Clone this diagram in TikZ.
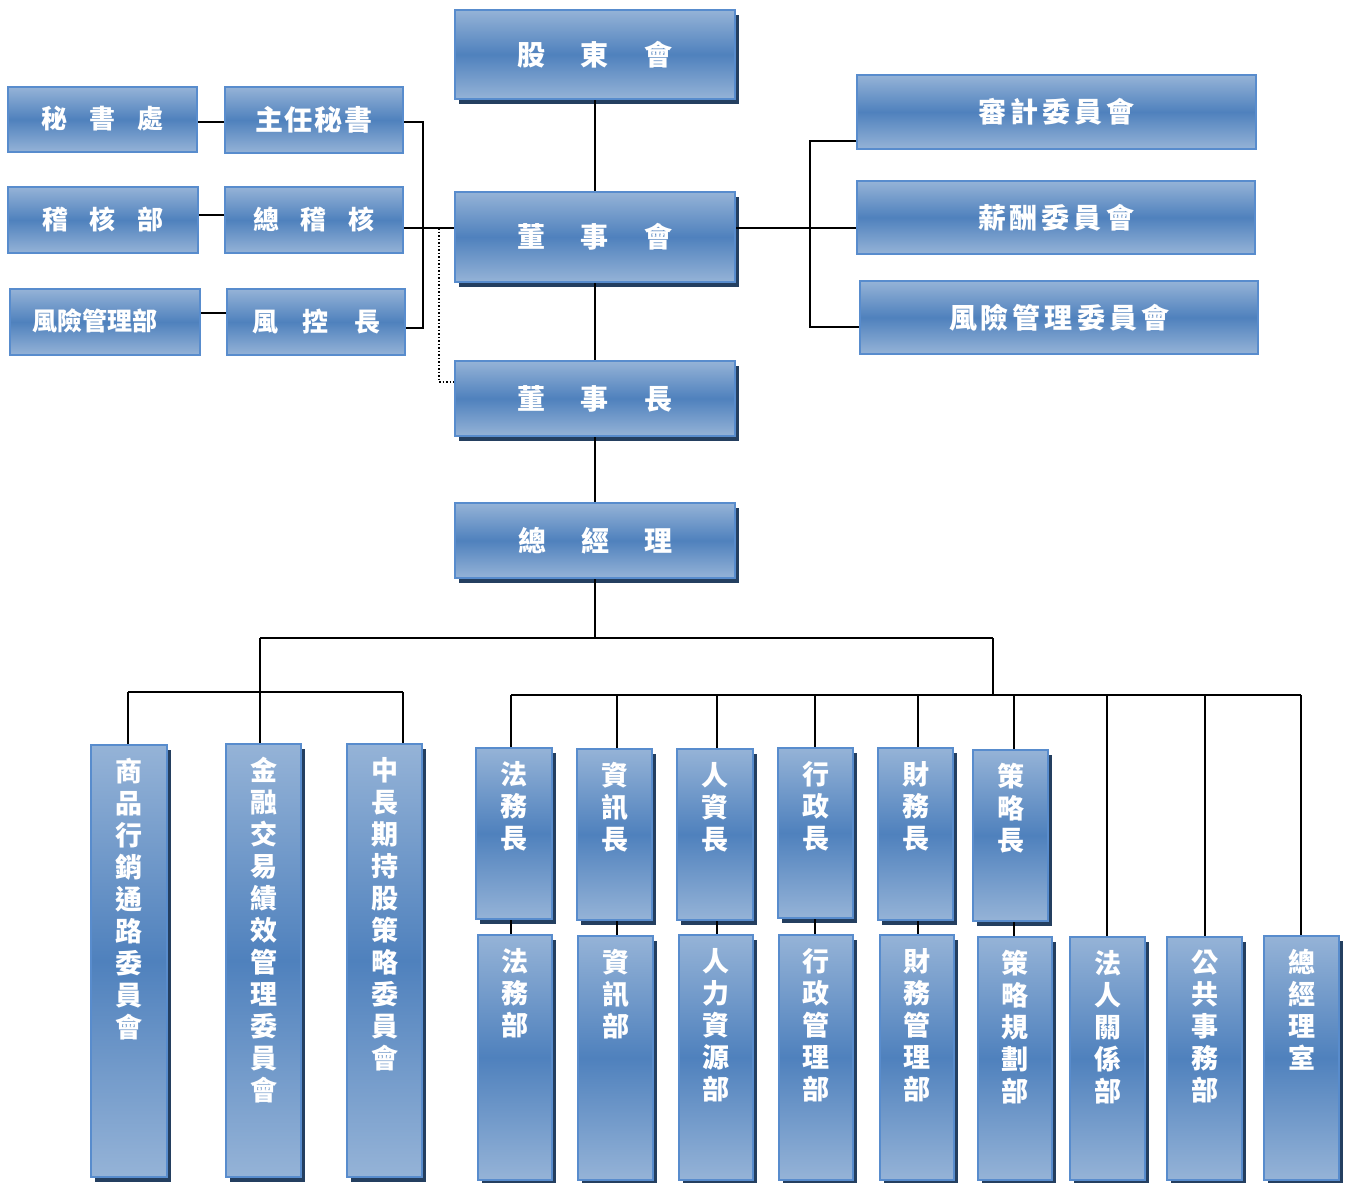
\documentclass[tikz,border=0pt]{standalone}
\usepackage{fontspec}
\newfontfamily\cjk{Noto Sans CJK TC}
\usetikzlibrary{shadows}
\definecolor{boxlight}{RGB}{149,179,215}
\definecolor{boxmid}{RGB}{79,129,189}
\definecolor{boxedge}{RGB}{88,140,205}
\definecolor{boxshadow}{RGB}{36,63,96}
\newcommand\gp[1]{\hspace{#1pt}}
\newcommand\up[1]{\raisebox{4pt}{#1}}
\tikzset{
  basebox/.style={rectangle, draw=boxedge, line width=2pt,
    top color=boxlight, bottom color=boxlight, middle color=boxmid,
    inner sep=0pt, text=white},
  shad/.style={drop shadow={shadow xshift=3.5pt, shadow yshift=-4.5pt, fill=boxshadow, opacity=1}},
  hfont/.style={font=\cjk\bfseries\fontsize{28}{30}\selectfont},
  sfont/.style={font=\cjk\bfseries\fontsize{26}{30}\selectfont},
  vtxt/.style={text=white, inner sep=0pt, align=center, anchor=north,
    font=\cjk\bfseries\fontsize{27}{32}\selectfont},
  link/.style={line width=1.8pt, black},
  dotlink/.style={line width=1.5pt, black, dotted},
}
% name, left, top, right, bottom, style, content
\newcommand\obox[7]{%
  \node[basebox, #6, minimum width={(#4-#2)*1pt}, minimum height={(#5-#3)*1pt}]
    (#1) at ({(#2+#4)/2},{(#3+#5)/2}) {#7};}
\newcommand\vertbox[6]{%
  \obox{#1}{#2}{#3}{#4}{#5}{shad}{}%
  \node[vtxt] (t#1) at ([yshift=-14pt]#1.north) {#6};}
\begin{document}
\begin{tikzpicture}[x=1pt, y=-1pt]
\useasboundingbox[fill=white] (0,0) rectangle (1349,1183);

% ---------- connector points ----------
\coordinate (jm) at (439,228);
\coordinate (dm) at (439,382);
\coordinate (b1) at (423,122);
\coordinate (b2) at (423,328);
\coordinate (rv1) at (810,141);
\coordinate (rv3) at (810,327);
\coordinate (hm) at (596,638);
\coordinate (hl) at (260,638);
\coordinate (hr) at (993,638);
\coordinate (gl) at (260,692);
\coordinate (ga) at (128,692);
\coordinate (gc) at (403,692);
\coordinate (gr) at (993,695);
\coordinate (d1) at (511,695);
\coordinate (d2) at (617,695);
\coordinate (d3) at (717,695);
\coordinate (d4) at (815,695);
\coordinate (d5) at (918,695);
\coordinate (d6) at (1014,695);
\coordinate (d7) at (1107,695);
\coordinate (d8) at (1205,695);
\coordinate (d9) at (1301,695);

% ---------- boxes ----------
\obox{gd}{455}{10}{735}{99}{shad,hfont}{股\gp{36}東\gp{36}會}
\obox{dsh}{455}{192}{735}{282}{shad,hfont}{董\gp{36}事\gp{36}會}
\obox{dsz}{455}{361}{735}{436}{shad,hfont}{董\gp{36}事\gp{36}長}
\obox{zjl}{455}{503}{735}{578}{shad,hfont}{\raisebox{-2pt}{總\gp{35}經\gp{35}理}}

\obox{msc}{8}{87}{197}{152}{sfont}{\up{秘\gp{22}書\gp{22}處}}
\obox{zrms}{225}{87}{403}{153}{hfont}{\up{主\gp{2}任\gp{2}秘\gp{2}書}}
\obox{jhb}{8}{187}{198}{253}{sfont}{\up{稽\gp{22}核\gp{22}部}}
\obox{zjh}{225}{187}{403}{253}{sfont}{\up{總\gp{22}稽\gp{22}核}}
\obox{fxb}{10}{289}{200}{355}{font=\cjk\bfseries\fontsize{25}{28}\selectfont}{\up{風險管理部}\kern20pt}
\obox{fkz}{227}{289}{405}{355}{sfont}{\up{風\gp{25}控\gp{25}長}}

\obox{sj}{857}{75}{1256}{149}{hfont}{\raisebox{-3pt}{審\gp{4}計\gp{4}委\gp{4}員\gp{4}會}}
\obox{xc}{857}{181}{1255}{254}{hfont}{\raisebox{-2pt}{薪\gp{4}酬\gp{4}委\gp{4}員\gp{4}會}}
\obox{fx}{860}{281}{1258}{354}{hfont}{\raisebox{-2pt}{風\gp{4}險\gp{4}管\gp{4}理\gp{4}委\gp{4}員\gp{4}會}}

\vertbox{c1}{91}{745}{167}{1177}{商\\品\\行\\銷\\通\\路\\委\\員\\會}
\vertbox{c2}{226}{744}{301}{1177}{金\\融\\交\\易\\績\\效\\管\\理\\委\\員\\會}
\vertbox{c3}{347}{744}{422}{1177}{中\\長\\期\\持\\股\\策\\略\\委\\員\\會}

\vertbox{h1}{476}{748}{552}{919}{法\\務\\長}
\vertbox{h2}{577}{749}{652}{920}{資\\訊\\長}
\vertbox{h3}{677}{749}{753}{920}{人\\資\\長}
\vertbox{h4}{778}{748}{853}{918}{行\\政\\長}
\vertbox{h5}{878}{748}{953}{920}{財\\務\\長}
\vertbox{h6}{973}{750}{1048}{921}{策\\略\\長}

\vertbox{p1}{478}{935}{552}{1180}{法\\務\\部}
\vertbox{p2}{578}{936}{653}{1180}{資\\訊\\部}
\vertbox{p3}{679}{935}{753}{1180}{人\\力\\資\\源\\部}
\vertbox{p4}{779}{935}{853}{1180}{行\\政\\管\\理\\部}
\vertbox{p5}{880}{935}{954}{1180}{財\\務\\管\\理\\部}
\vertbox{p6}{978}{937}{1052}{1180}{策\\略\\規\\劃\\部}
\vertbox{p7}{1070}{937}{1145}{1180}{法\\人\\關\\係\\部}
\vertbox{p8}{1167}{937}{1242}{1180}{公\\共\\事\\務\\部}
\vertbox{p9}{1264}{936}{1339}{1180}{總\\經\\理\\室}

% ---------- lines ----------
\draw[link] (gd.south) -- (dsh.north);
\draw[link] (dsh.south) -- (dsz.north);
\draw[link] (dsz.south) -- (zjl.north);

\draw[link] (msc.east |- b1) -- (zrms.west |- b1);
\draw[link] (jhb.east |- 0,215) -- (zjh.west |- 0,215);
\draw[link] (fxb.east |- 0,313) -- (fkz.west |- 0,313);
\draw[link] (zrms.east |- b1) -- (b1) -- (b2) -- (fkz.east |- b2);
\draw[link] (zjh.east |- jm) -- (dsh.west |- jm);
\draw[dotlink] (jm) -- (dm) -- (dsz.west |- dm);

\draw[link] (dsh.east |- jm) -- (xc.west |- jm);
\draw[link] (sj.west |- rv1) -- (rv1) -- (rv3) -- (fx.west |- rv3);

\draw[link] (zjl.south) -- (zjl.south |- hm);
\draw[link] (hl) -- (hr);
\draw[link] (hl) -- (gl);
\draw[link] (ga) -- (gc);
\draw[link] (ga) -- (ga |- c1.north);
\draw[link] (gl) -- (gl |- c2.north);
\draw[link] (gc) -- (gc |- c3.north);

\draw[link] (hr) -- (gr);
\draw[link] (d1) -- (d9);
\foreach \i in {1,...,6}{
  \draw[link] (d\i) -- (d\i |- h\i.north);
  \draw[link] (h\i.south -| d\i) -- (d\i |- p\i.north);
}
\foreach \i in {7,8,9}{
  \draw[link] (d\i) -- (d\i |- p\i.north);
}
\end{tikzpicture}
\end{document}
